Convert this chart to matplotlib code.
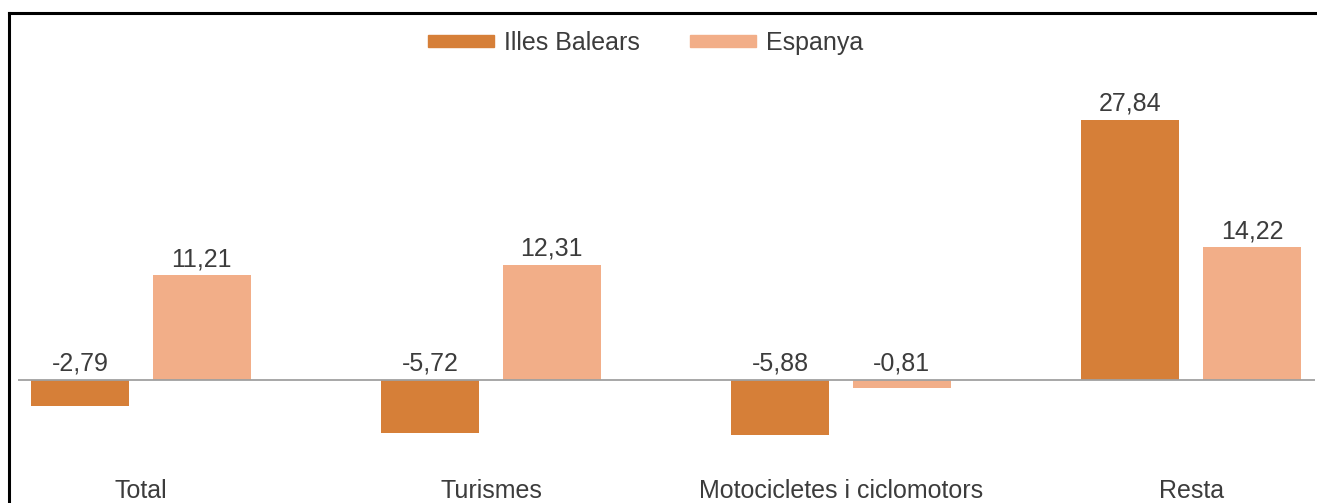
import matplotlib
matplotlib.use("Agg")
import matplotlib.pyplot as plt
from matplotlib.lines import Line2D
from matplotlib.patches import Patch
import numpy as np

categories = ["Total", "Turismes", "Motocicletes i ciclomotors", "Resta"]
series_names = ["Illes Balears", "Espanya"]
illes_balears = [-2.79, -5.72, -5.88, 27.84]
espanya = [11.21, 12.31, -0.81, 14.22]
colors = ["#D67F38", "#F2AE88"]

W, H = 1317, 503
plt.rcParams['font.family'] = ['Liberation Sans', 'DejaVu Sans']
fig = plt.figure(figsize=(W / 100, H / 100), dpi=100)
FS = 18
TXT = "#3c3c3c"

# axes placement in pixels
ax_left, ax_right = 18, 1315
ax_top, ax_bottom = 80, 470
ax = fig.add_axes([ax_left / W, 1 - ax_bottom / H, (ax_right - ax_left) / W, (ax_bottom - ax_top) / H])

# y scaling: zero at 380 px, 27.84 at 120 px
ppu = (380 - 120) / 27.84
ymax = (380 - ax_top) / ppu
ymin = -(ax_bottom - 380) / ppu
ax.set_ylim(ymin, ymax)
ax.set_xlim(-0.351, 3.354)

x = np.arange(len(categories))
bw = 0.28
off = 0.174
for vals, name, c, o in [(illes_balears, series_names[0], colors[0], -off),
                         (espanya, series_names[1], colors[1], off)]:
    ax.bar(x + o, vals, width=bw, color=c, label=name, zorder=2)
    for xi, v in zip(x + o, vals):
        ytxt = max(v, 0)
        ax.annotate(f"{v:.2f}".replace(".", ","), (xi, ytxt), xytext=(0, 3.0),
                    textcoords="offset points", ha="center", va="bottom",
                    fontsize=FS, color=TXT)

ax.axhline(0, color="#A0A0A0", lw=1.3, zorder=3)
for s in ax.spines.values():
    s.set_visible(False)
ax.set_yticks([])
ax.set_xticks(x)
ax.set_xticklabels(categories, fontsize=FS, color=TXT)
ax.tick_params(axis='x', length=0, pad=6.5)

handles = [Patch(color=colors[0]), Patch(color=colors[1])]
fig.legend(handles, series_names, loc="center", bbox_to_anchor=(646 / W, 1 - 43 / H),
           ncol=2, frameon=False, fontsize=FS, handlelength=2.64, handleheight=0.4,
           columnspacing=2.0, handletextpad=0.4, labelcolor=TXT,
           borderpad=0.1, borderaxespad=0)

# frame lines (top and left)
fig.add_artist(Line2D([9 / W, 1], [1 - 13 / H, 1 - 13 / H], color="black", lw=2.2,
                      transform=fig.transFigure))
fig.add_artist(Line2D([9 / W, 9 / W], [0, 1 - 13 / H], color="black", lw=2.2,
                      transform=fig.transFigure))

fig.savefig("out.png", dpi=100)
